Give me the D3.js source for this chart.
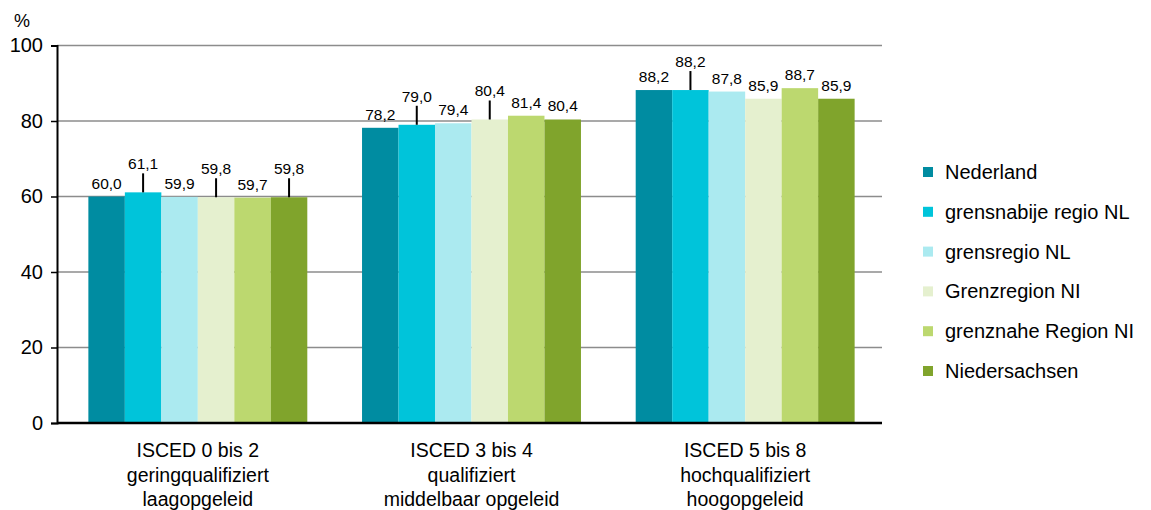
<!DOCTYPE html>
<html><head><meta charset="utf-8">
<script src="https://cdn.jsdelivr.net/npm/d3@7"></script>
<style>
html,body{margin:0;padding:0;background:#fff;}
svg{display:block;font-family:"Liberation Sans",Arial,sans-serif;}
</style></head>
<body>
<svg id="chart" width="1151" height="510"></svg>
<script>
const categories = [
  ["ISCED 0 bis 2", "geringqualifiziert", "laagopgeleid"],
  ["ISCED 3 bis 4", "qualifiziert", "middelbaar opgeleid"],
  ["ISCED 5 bis 8", "hochqualifiziert", "hoogopgeleid"]
];
const seriesNames = ["Nederland", "grensnabije regio NL", "grensregio NL", "Grenzregion NI", "grenznahe Region NI", "Niedersachsen"];
const seriesColors = ["#008ca1", "#00c4da", "#abeaf0", "#e5f0cf", "#bcd86f", "#80a42c"];
const nederland = [60.0, 78.2, 88.2];
const grensnabije = [61.1, 79.0, 88.2];
const grensregio = [59.9, 79.4, 87.8];
const grenzregion = [59.8, 80.4, 85.9];
const grenznahe = [59.7, 81.4, 88.7];
const niedersachsen = [59.8, 80.4, 85.9];
// labels that are lifted with a leader line (per category, per series)
const leader = [
  [false, true, false, true, false, true],
  [false, true, false, true, false, false],
  [false, true, false, false, false, false]
];
const yTicks = [0, 20, 40, 60, 80, 100];

const series = [nederland, grensnabije, grensregio, grenzregion, grenznahe, niedersachsen];
const catKeys = categories.map(c => c[0]);
const svg = d3.select("#chart");

const axisX = 57, plotRight = 882;
const x0 = d3.scaleBand().domain(catKeys).range([61, 882]).paddingInner(0.2).paddingOuter(0.1);
const x1 = d3.scaleBand().domain(d3.range(seriesNames.length)).range([0, x0.bandwidth()]);
const y = d3.scaleLinear().domain([0, 100]).range([423, 45.5]);

// gridlines
svg.append("g").selectAll("line").data(yTicks.filter(t => t > 0)).join("line")
  .attr("x1", axisX).attr("x2", plotRight)
  .attr("y1", d => y(d)).attr("y2", d => y(d))
  .attr("stroke", "#8c8c8c").attr("stroke-width", 1.5);

// y axis
const yAxis = svg.append("g").attr("transform", `translate(${axisX},0)`)
  .call(d3.axisLeft(y).tickValues(yTicks).tickSize(6).tickPadding(8).tickFormat(d3.format("d")));
yAxis.select(".domain").attr("stroke", "#000").attr("stroke-width", 2);
yAxis.selectAll(".tick line").attr("stroke", "#000").attr("stroke-width", 1.5);
yAxis.selectAll(".tick text").attr("font-size", 20).attr("fill", "#000").attr("font-family", "Liberation Sans, Arial, sans-serif");

svg.append("text").attr("x", 22).attr("y", 27).attr("text-anchor", "middle")
  .attr("font-size", 18).attr("fill", "#000").text("%");

// bars
const groups = svg.append("g").selectAll("g").data(catKeys).join("g")
  .attr("transform", d => `translate(${x0(d)},0)`);

groups.each(function(cat, ci) {
  const g = d3.select(this);
  const vals = series.map((s, si) => ({ v: s[ci], si }));
  g.selectAll("rect").data(vals).join("rect")
    .attr("x", d => x1(d.si)).attr("width", x1.bandwidth())
    .attr("y", d => y(d.v)).attr("height", d => y(0) - y(d.v))
    .attr("fill", d => seriesColors[d.si]);
  vals.forEach(d => {
    const cx = x1(d.si) + x1.bandwidth() / 2;
    const top = y(d.v);
    const lifted = leader[ci][d.si];
    if (lifted) {
      g.append("line").attr("x1", cx).attr("x2", cx).attr("y1", top).attr("y2", top - 19)
        .attr("stroke", "#000").attr("stroke-width", 2);
    }
    g.append("text").attr("x", cx).attr("y", lifted ? top - 23 : top - 8)
      .attr("text-anchor", "middle").attr("font-size", 15.5).attr("fill", "#000")
      .text(d3.format(".1f")(d.v).replace(".", ","));
  });
});

// x axis line
svg.append("line").attr("x1", axisX).attr("x2", plotRight).attr("y1", y(0)).attr("y2", y(0))
  .attr("stroke", "#000").attr("stroke-width", 2.5);

// category labels
categories.forEach(c => {
  const t = svg.append("text").attr("text-anchor", "middle").attr("font-size", 19.5).attr("fill", "#000");
  c.forEach((line, i) => {
    t.append("tspan").attr("x", x0(c[0]) + x0.bandwidth() / 2).attr("y", 457 + i * 24.5).text(line);
  });
});

// legend
const legend = svg.append("g").selectAll("g").data(seriesNames).join("g")
  .attr("transform", (d, i) => `translate(923,${172 + i * 39.8})`);
legend.append("rect").attr("x", 0).attr("y", -5).attr("width", 10).attr("height", 10)
  .attr("fill", (d, i) => seriesColors[i]);
legend.append("text").attr("x", 22).attr("y", 7).attr("font-size", 20).attr("fill", "#000").text(d => d);
</script>
</body></html>
